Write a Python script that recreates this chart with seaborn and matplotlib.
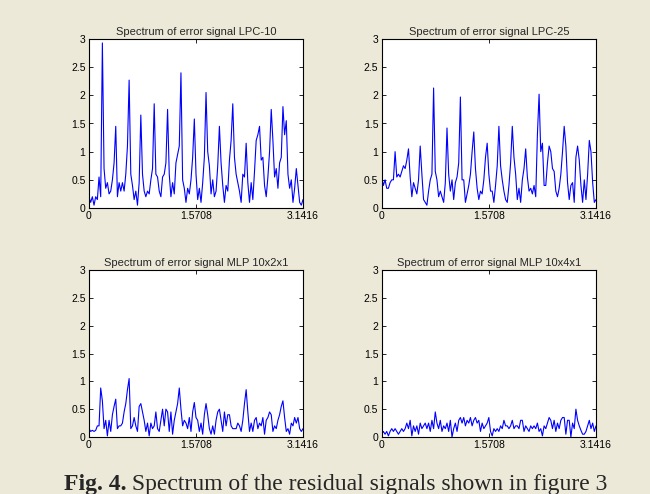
import numpy as np
import pandas as pd
import matplotlib
matplotlib.use("Agg")
import matplotlib.pyplot as plt
import seaborn as sns

titles = ["Spectrum of error signal LPC-10", "Spectrum of error signal LPC-25",
          "Spectrum of error signal MLP 10x2x1", "Spectrum of error signal MLP 10x4x1"]
xtick_vals = [0, 1.5708, 3.1416]
xtick_labels = ["0", "1.5708", "3.1416"]
ytick_vals = [0, 0.5, 1, 1.5, 2, 2.5, 3]
ytick_labels = ["0", "0.5", "1", "1.5", "2", "2.5", "3"]
caption_bold = "Fig. 4."
caption_rest = " Spectrum of the residual signals shown in figure 3"

lpc10 = [0.2, 0.1, 0.2, 0.05, 0.2, 0.15, 0.55, 0.2, 2.93, 0.7,
         0.35, 0.45, 0.25, 0.3, 0.5, 0.8, 1.45, 0.2, 0.45, 0.3,
         0.45, 0.3, 0.6, 1.1, 2.27, 0.6, 0.4, 0.15, 0.3, 0.05,
         0.45, 1.65, 0.6, 0.3, 0.2, 0.3, 0.25, 0.5, 0.7, 1.85,
         0.6, 0.55, 0.3, 0.2, 0.55, 0.6, 0.8, 1.75, 0.6, 0.2,
         0.45, 0.25, 0.8, 0.95, 1.1, 2.4, 0.5, 0.35, 0.1, 0.35,
         0.25, 0.5, 0.9, 1.58, 0.6, 0.15, 0.35, 0.1, 0.45, 0.9,
         2.05, 1.0, 0.75, 0.25, 0.5, 0.2, 0.3, 0.75, 1.45, 0.8,
         0.4, 0.1, 0.4, 0.3, 0.85, 1.2, 1.85, 0.9, 0.6, 0.45,
         0.3, 0.1, 0.6, 0.55, 1.15, 0.45, 0.1, 0.45, 0.15, 0.65,
         1.2, 1.3, 1.45, 0.85, 0.9, 0.4, 0.2, 0.55, 1.0, 1.75,
         1.2, 0.55, 0.7, 0.35, 0.8, 0.9, 1.8, 1.3, 1.55, 0.6,
         0.35, 0.5, 0.1, 0.35, 0.7, 0.4, 0.1, 0.05, 0.15]

lpc25 = [0.55, 0.4, 0.5, 0.35, 0.35, 0.45, 0.5, 0.5, 1.0, 0.55,
         0.6, 0.55, 0.65, 0.75, 0.7, 0.85, 1.05, 0.55, 0.2, 0.45,
         0.35, 0.25, 0.5, 1.1, 0.6, 0.15, 0.1, 0.05, 0.3, 0.5,
         0.6, 2.13, 0.65, 0.5, 0.2, 0.3, 0.2, 0.1, 0.45, 1.42,
         0.6, 0.3, 0.5, 0.15, 0.45, 0.55, 0.8, 1.97, 0.5, 0.5,
         0.1, 0.25, 0.4, 0.6, 1.0, 1.35, 0.7, 0.35, 0.15, 0.3,
         0.25, 0.5, 0.9, 1.15, 0.6, 0.3, 0.3, 0.1, 0.4, 0.75,
         1.45, 0.75, 0.5, 0.3, 0.15, 0.1, 0.4, 0.8, 1.45, 0.9,
         0.6, 0.15, 0.35, 0.1, 0.5, 0.7, 1.05, 0.55, 0.3, 0.35,
         0.25, 0.4, 0.2, 1.3, 2.02, 1.0, 1.15, 0.4, 0.4, 0.8,
         1.1, 1.0, 0.7, 0.65, 0.3, 0.2, 0.35, 0.6, 1.0, 1.45,
         1.1, 0.45, 0.15, 0.4, 0.45, 0.1, 0.9, 1.1, 0.85, 0.4,
         0.1, 0.5, 0.15, 0.6, 1.2, 1.0, 0.45, 0.1, 0.15]

mlp_10x2x1 = [0.15, 0.1, 0.12, 0.1, 0.12, 0.2, 0.2, 0.88, 0.65, 0.15,
              0.3, 0.02, 0.3, 0.1, 0.4, 0.55, 0.68, 0.15, 0.2, 0.2,
              0.25, 0.45, 0.6, 0.85, 1.05, 0.15, 0.2, 0.35, 0.2, 0.1,
              0.55, 0.6, 0.45, 0.3, 0.1, 0.25, 0.02, 0.25, 0.15, 0.2,
              0.45, 0.15, 0.1, 0.3, 0.5, 0.2, 0.5, 0.45, 0.1, 0.45,
              0.05, 0.3, 0.45, 0.6, 0.88, 0.5, 0.2, 0.3, 0.25, 0.15,
              0.35, 0.1, 0.45, 0.62, 0.35, 0.3, 0.1, 0.25, 0.05, 0.4,
              0.6, 0.4, 0.15, 0.05, 0.2, 0.05, 0.3, 0.45, 0.5, 0.3,
              0.1, 0.45, 0.2, 0.4, 0.4, 0.2, 0.15, 0.15, 0.15, 0.25,
              0.2, 0.1, 0.3, 0.6, 0.85, 0.45, 0.1, 0.25, 0.1, 0.3,
              0.35, 0.15, 0.25, 0.2, 0.35, 0.05, 0.3, 0.35, 0.45, 0.4,
              0.1, 0.2, 0.15, 0.3, 0.4, 0.55, 0.65, 0.35, 0.1, 0.15,
              0.05, 0.25, 0.2, 0.35, 0.25, 0.35, 0.15, 0.1, 0.15]

mlp_10x4x1 = [0.05, 0.1, 0.05, 0.1, 0.02, 0.1, 0.15, 0.1, 0.15, 0.1,
              0.05, 0.1, 0.15, 0.1, 0.15, 0.25, 0.15, 0.3, 0.02, 0.2,
              0.1, 0.2, 0.05, 0.25, 0.15, 0.2, 0.25, 0.15, 0.25, 0.1,
              0.3, 0.15, 0.45, 0.25, 0.15, 0.3, 0.1, 0.2, 0.15, 0.25,
              0.1, 0.3, 0.0, 0.15, 0.25, 0.1, 0.3, 0.35, 0.25, 0.35,
              0.2, 0.3, 0.25, 0.35, 0.2, 0.3, 0.35, 0.25, 0.3, 0.1,
              0.25, 0.15, 0.2, 0.25, 0.35, 0.1, 0.02, 0.15, 0.1, 0.15,
              0.1, 0.2, 0.15, 0.3, 0.2, 0.2, 0.15, 0.2, 0.3, 0.15,
              0.2, 0.2, 0.15, 0.3, 0.3, 0.1, 0.2, 0.15, 0.1, 0.2,
              0.15, 0.2, 0.15, 0.25, 0.1, 0.15, 0.02, 0.2, 0.15, 0.25,
              0.35, 0.3, 0.15, 0.3, 0.1, 0.25, 0.15, 0.3, 0.35, 0.35,
              0.05, 0.3, 0.3, 0.0, 0.25, 0.15, 0.5, 0.3, 0.2, 0.12,
              0.05, 0.05, 0.1, 0.2, 0.3, 0.15, 0.25, 0.1, 0.2]

series = [lpc10, lpc25, mlp_10x2x1, mlp_10x4x1]

sns.set_style("ticks")
plt.rcParams["font.family"] = ["Liberation Sans", "DejaVu Sans"]

bg = "#ECE9D8"
W, H = 650, 494
fig = plt.figure(figsize=(W / 100, H / 100), dpi=100, facecolor=bg)

positions = [
    [89 / W, 1 - 208 / H, 214 / W, 169 / H],
    [381.7 / W, 1 - 208 / H, 214.3 / W, 169 / H],
    [89 / W, 1 - 437 / H, 214 / W, 167 / H],
    [381.7 / W, 1 - 437 / H, 214.3 / W, 167 / H],
]

for pos, title, vals in zip(positions, titles, series):
    ax = fig.add_axes(pos)
    freq = np.linspace(0, np.pi, len(vals))
    df = pd.DataFrame({"w": freq, "mag": vals})
    sns.lineplot(data=df, x="w", y="mag", ax=ax, color="#0000FF", linewidth=0.8)
    ax.set_facecolor("white")
    ax.set_xlim(0, np.pi)
    ax.set_ylim(0, 3)
    ax.set_xticks(xtick_vals)
    ax.set_xticklabels(xtick_labels)
    ax.set_yticks(ytick_vals)
    ax.set_yticklabels(ytick_labels)
    ax.set_xlabel("")
    ax.set_ylabel("")
    ax.tick_params(direction="in", top=True, right=True, length=3,
                   width=0.6, labelsize=7.5, pad=2.5, colors="black")
    for s in ax.spines.values():
        s.set_visible(True)
        s.set_linewidth(0.8)
        s.set_color("black")
    ax.set_title(title, fontsize=8, pad=3)

y_base = 1 - 490 / H
t1 = fig.text(64 / W, y_base, caption_bold, ha="left", va="baseline",
              fontsize=17, family="Liberation Serif", weight="bold")
fig.canvas.draw()
bb = t1.get_window_extent()
fig.text(bb.x1 / W, y_base, caption_rest, ha="left", va="baseline",
         fontsize=17, family="Liberation Serif")

fig.savefig("out.png", dpi=100, facecolor=bg)
